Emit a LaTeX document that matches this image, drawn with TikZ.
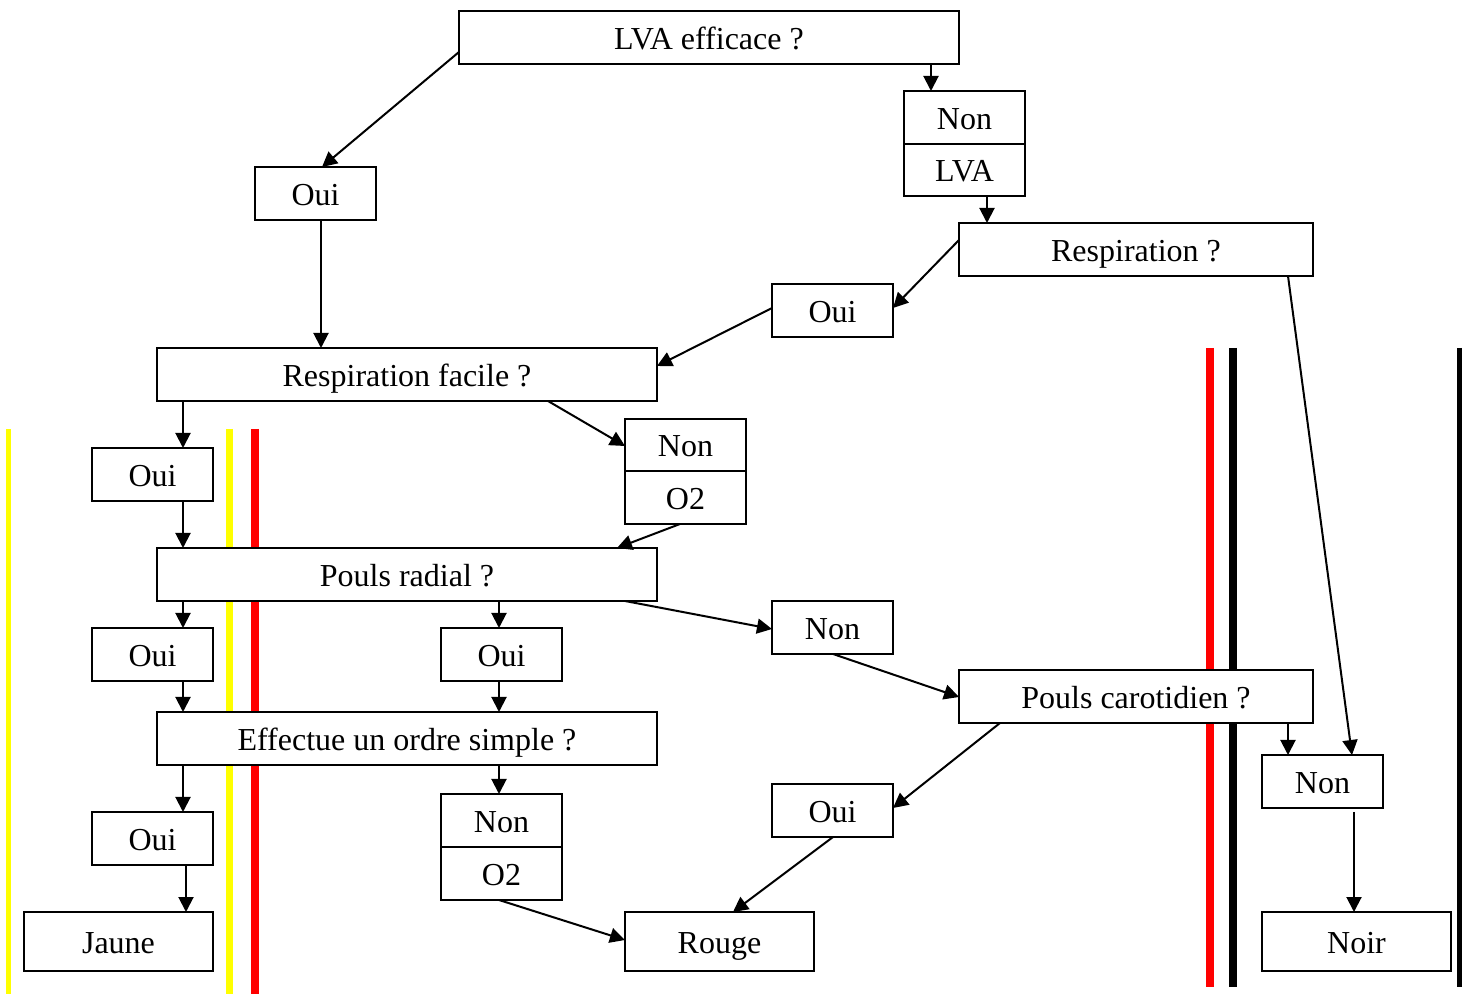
\documentclass[tikz,border=0pt]{standalone}
\usepackage{fontspec}
\setmainfont{Liberation Serif}
\usetikzlibrary{arrows.meta,calc}
\begin{document}
\begin{tikzpicture}[x=0.5pt,y=-0.5pt,
  box/.style={draw=black,line width=1pt,fill=white,inner sep=0pt,outer sep=0pt,
    font=\fontsize{16}{19}\selectfont,minimum height=26.5pt,
    text height=12pt,text depth=0pt},
  small/.style={box,minimum width=60.5pt},
  wide/.style={box,minimum width=250pt},
  mid/.style={box,minimum width=177pt},
  endbox/.style={box,minimum width=94.5pt,minimum height=29.5pt},
  arr/.style={line width=1pt,-{Triangle[length=7.5pt,width=7.5pt]}},
  ybar/.style={draw={rgb,255:red,255;green,255;blue,0}},
  rbar/.style={draw={rgb,255:red,255;green,0;blue,0}},
  kbar/.style={draw=black}
]
\useasboundingbox (0,0) rectangle (1469,994);
% colour bars
\draw[ybar,line width=2.5pt] (8.5,429) -- (8.5,994);
\draw[ybar,line width=3.8pt] (229.5,429) -- (229.5,994);
\draw[rbar,line width=4pt] (255,429) -- (255,994);
\draw[rbar,line width=4pt] (1210,348) -- (1210,987);
\draw[kbar,line width=4pt] (1233.3,348) -- (1233.3,987);
\draw[kbar,line width=2.5pt] (1459.5,348) -- (1459.5,987);
% nodes
\node[wide] (lva) at (709,37.5) {LVA efficace ?};
\node[small] (nonA) at (964.5,117.5) {Non};
\node[small,minimum height=26pt] (lvaB) at (964.5,170) {LVA};
\node[small] (oui1) at (315.5,193.5) {Oui};
\node[mid] (resp) at (1136,249.5) {Respiration ?};
\node[small] (oui2) at (832.5,310.5) {Oui};
\node[wide] (rf) at (407,374.5) {Respiration facile ?};
\node[small,minimum height=26pt] (non1) at (685.5,445) {Non};
\node[small] (o21) at (685.5,497.5) {O2};
\node[small] (oui3) at (152.5,474.5) {Oui};
\node[wide] (pr) at (407,574.5) {Pouls radial ?};
\node[small] (oui4) at (152.5,654.5) {Oui};
\node[small] (oui5) at (501.5,654.5) {Oui};
\node[small] (nonc) at (832.5,627.5) {Non};
\node[mid] (pc) at (1136,696.5) {Pouls carotidien ?};
\node[wide] (eff) at (407,738.5) {Effectue un ordre simple ?};
\node[small] (oui6) at (152.5,838.5) {Oui};
\node[small] (non2) at (501.5,820.5) {Non};
\node[small] (o22) at (501.5,873.5) {O2};
\node[small] (oui7) at (832.5,810.5) {Oui};
\node[small] (nonn) at (1322.5,781.5) {Non};
\node[endbox] (jaune) at (118.5,941.5) {Jaune};
\node[endbox] (rouge) at (719.5,941.5) {Rouge};
\node[endbox] (noir) at (1356.5,941.5) {Noir};
% connectors
\draw[arr] ($(lva.south west)+(0,-12)$) -- ($(oui1.north)+(6.5,0)$);
\draw[arr] ($(lva.south)+(222,0)$) -- ($(nonA.north)+(-33.5,0)$);
\draw[arr] ($(lvaB.south)+(22.5,0)$) -- ($(resp.north)+(-149,0)$);
\draw[arr] ($(resp.north west)+(0,17)$) -- ($(oui2.east)+(0,-2.5)$);
\draw[arr] ($(resp.south east)+(-25,0)$) -- ($(nonn.north)+(29.5,0)$);
\draw[arr] ($(oui2.west)+(0,-2.5)$) -- ($(rf.north east)+(0,18)$);
\draw[arr] ($(oui1.south)+(5.5,0)$) -- ($(rf.north)+(-86,0)$);
\draw[arr] ($(rf.south west)+(26,0)$) -- ($(oui3.north)+(30.5,0)$);
\draw[arr] ($(rf.south)+(141,0)$) -- ($(non1.west)+(0,1)$);
\draw[arr] ($(oui3.south)+(30.5,0)$) -- ($(pr.north west)+(26,0)$);
\draw[arr] ($(o21.south)+(-5.5,0)$) -- ($(pr.north east)+(-40,0)$);
\draw[arr] ($(pr.south west)+(26,0)$) -- ($(oui4.north)+(30.5,0)$);
\draw[arr] ($(pr.south)+(92,0)$) -- ($(oui5.north)+(-2.5,0)$);
\draw[arr] ($(pr.south)+(218,0)$) -- ($(nonc.west)+(0,1.5)$);
\draw[arr] ($(oui4.south)+(30.5,0)$) -- ($(eff.north west)+(26,0)$);
\draw[arr] ($(oui5.south)+(-2.5,0)$) -- ($(eff.north)+(92,0)$);
\draw[arr] ($(nonc.south)+(0.5,0)$) -- ($(pc.west)+(0,0.5)$);
\draw[arr] ($(eff.south west)+(26,0)$) -- ($(oui6.north)+(30.5,0)$);
\draw[arr] ($(eff.south)+(92,0)$) -- ($(non2.north)+(-2.5,0)$);
\draw[arr] ($(pc.south west)+(41,0)$) -- ($(oui7.east)+(0,-2.5)$);
\draw[arr] ($(pc.south east)+(-25,0)$) -- ($(nonn.north)+(-34.5,0)$);
\draw[arr] ($(oui6.south)+(33.5,0)$) -- ($(jaune.north)+(67.5,0)$);
\draw[arr] ($(o22.south)+(-2.5,0)$) -- ($(rouge.west)+(0,-1.5)$);
\draw[arr] ($(oui7.south)+(0.5,0)$) -- ($(rouge.north)+(13.5,0)$);
\draw[arr] ($(nonn.south)+(31.5,4)$) -- ($(noir.north)+(-2.5,0)$);
\end{tikzpicture}
\end{document}
